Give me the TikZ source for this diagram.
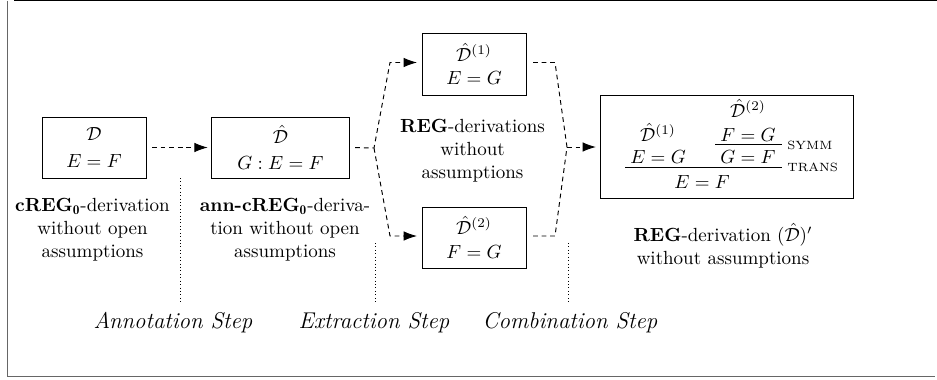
\documentclass[tikz,border=0pt]{standalone}
\usepackage{fontspec}
\usetikzlibrary{arrows.meta}
\begin{document}
\begin{tikzpicture}[x=0.526pt,y=-0.526pt,
  box/.style={draw, line width=0.5pt, align=center, inner sep=0pt},
  conn/.style={line width=0.5pt, dash pattern=on 2.5pt off 2pt},
  arr/.style={conn, -{Latex[length=7pt,width=5pt]}},
  guide/.style={line width=0.5pt, dash pattern=on 0.4pt off 1.4pt},
  desc/.style={align=center, inner sep=0pt},
  stepl/.style={font=\large\itshape, inner sep=0pt},
  prf/.style={anchor=base, inner sep=0pt},
  rulel/.style={line width=0.5pt},
  rname/.style={font=\fontsize{6.3}{7}\selectfont, anchor=west, inner sep=0pt}]
\useasboundingbox (0,0) rectangle (937,379);
% frame
\draw[line width=1pt] (14,0.5) -- (937,0.5);
\draw[gray!80!black, line width=0.9pt] (7.5,1) -- (7.5,376.5) -- (935,376.5);

% boxes
\node[box, minimum width=54.7pt, minimum height=32.1pt] (b1) at (94,147.5) {$\mathcal{D}$\\[2.2pt]$E=F$};
\node[box, minimum width=72.1pt, minimum height=32.1pt] (b2) at (280.5,147.5) {$\hat{\mathcal{D}}$\\[1.5pt]$G : E=F$};
\node[box, minimum width=54.7pt, minimum height=32.6pt] (b3) at (474,64) {$\hat{\mathcal{D}}^{(1)}$\\[0.5pt]$E=G$};
\node[box, minimum width=54.7pt, minimum height=32.1pt] (b4) at (474,237.5) {$\hat{\mathcal{D}}^{(2)}$\\[0.5pt]$F=G$};
\node[box, minimum width=132.6pt, minimum height=53.7pt] (b5) at (727,147) {};

% proof tree inside b5
\node[prf] (p2) at (748,117.3) {$\hat{\mathcal{D}}^{(2)}$};
\node[prf] (p1) at (658,141.3) {$\hat{\mathcal{D}}^{(1)}$};
\node[prf] (pfg) at (748,141.3) {$F=G$};
\node[prf] (peg) at (658,163) {$E=G$};
\node[prf] (pgf) at (748,163) {$G=F$};
\node[prf] (pef) at (702,188) {$E=F$};
\coordinate (r1a) at (715,144.7);
\coordinate (r1b) at (782,144.7);
\coordinate (r2a) at (625,167.3);
\coordinate (r2b) at (782,167.3);
\draw[rulel] (r1a) -- (r1b);
\draw[rulel] (r2a) -- (r2b);
\node[rname] (rs) at (787,145) {SYMM};
\node[rname] (rt) at (787,167.5) {TRANS};

% descriptions
\node[desc] (t1) at (92.5,229.5) {\textbf{cREG$_{\mathbf{0}}$}-derivation\\without open\\assumptions};
\node[desc] (t2) at (285,229.5) {\textbf{ann-cREG$_{\mathbf{0}}$}-deriva-\\tion without open\\assumptions};
\node[desc] (t3) at (472.5,151) {\textbf{REG}-derivations\\without\\assumptions};
\node[desc] (t4) at (723,245.5) {\textbf{REG}-derivation $(\hat{\mathcal{D}})'$\\without assumptions};

% step labels
\node[stepl] (st1) at (173,323) {Annotation Step};
\node[stepl] (st2) at (374,323) {Extraction Step};
\node[stepl] (st3) at (570,323) {Combination Step};
\coordinate (g1) at (180,178);
\coordinate (g2) at (375,243);
\coordinate (g3) at (568,243);
\draw[guide] (g1) -- (g1 |- 0,303);
\draw[guide] (g2) -- (g2 |- 0,303);
\draw[guide] (g3) -- (g3 |- 0,303);

% connectors
\draw[arr, shorten <=3pt, shorten >=2pt] (b1.east) -- (b2.west);
\coordinate (s1) at (374,148);
\coordinate (s2) at (390,62.5);
\coordinate (s3) at (390,236);
\draw[arr, shorten <=3pt, shorten >=2.4pt] (b2.east) -- (s1) -- (s2) -- (s2 -| b3.west);
\draw[arr, shorten >=2.4pt] (s1) -- (s3) -- (s3 -| b4.west);
\coordinate (m1) at (555,62.5);
\coordinate (m2) at (567,147);
\coordinate (m3) at (555,236);
\draw[conn, shorten <=3.5pt] (b3.east |- m1) -- (m1) -- (m2);
\draw[conn, shorten <=3.5pt] (b4.east |- m3) -- (m3) -- (m2);
\draw[arr, shorten >=2.4pt] (m2) -- (b5.west |- m2);
\end{tikzpicture}
\end{document}
